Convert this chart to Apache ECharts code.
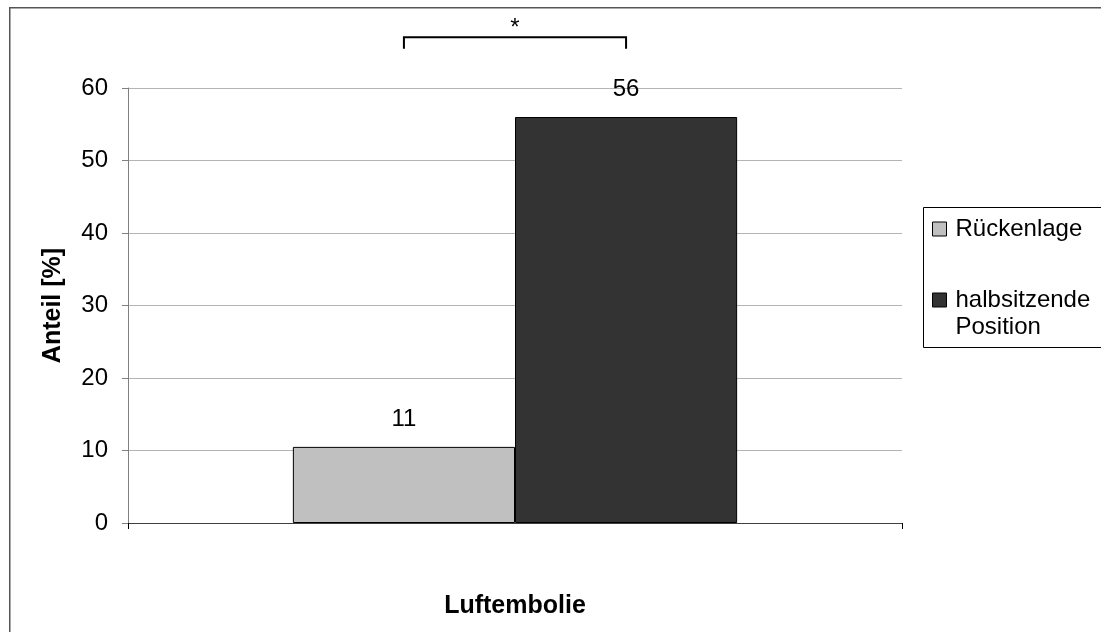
<!DOCTYPE html>
<html>
<head>
<meta charset="utf-8">
<script src="https://cdn.jsdelivr.net/npm/echarts@6/dist/echarts.min.js"></script>
<style>html,body{margin:0;padding:0;background:#fff}#c{width:1101px;height:632px}</style>
</head>
<body>
<div id="c"></div>
<script>
const categories = ['Luftembolie'];
const seriesNames = ['Rückenlage', 'halbsitzende Position'];
const legendLabels = ['Rückenlage', '\nhalbsitzende\nPosition'];
const valuesRueckenlage = [10.5];
const valuesHalbsitzend = [56];
const yTicks = [0, 10, 20, 30, 40, 50, 60];
const bracketTop = 67;      // value level of significance bracket
const bracketEnd = 65.4;    // value level of bracket ends
const sigMark = '*';

const FONT = "'Liberation Sans', Arial, sans-serif";
const FS = 24;
const FSB = 25;
const chart = echarts.init(document.getElementById('c'), null, {renderer: 'canvas'});

const option = {
  animation: false,
  backgroundColor: '#ffffff',
  textStyle: {fontFamily: FONT},
  grid: {left: 128, right: 199, top: 88, bottom: 109, containLabel: false},
  legend: {
    orient: 'vertical',
    left: 932,
    top: 215.5,
    padding: 0,
    itemGap: 17,
    itemWidth: 14,
    itemHeight: 14,
    icon: 'rect',
    itemStyle: {borderColor: '#000', borderWidth: 1},
    textStyle: {fontFamily: FONT, fontSize: FS, color: '#000', lineHeight: 27, padding: [0, 0, 0, 4]},
    data: seriesNames,
    formatter: function (n) { return legendLabels[seriesNames.indexOf(n)]; }
  },
  xAxis: {
    type: 'category',
    data: categories,
    name: categories[0],
    nameLocation: 'middle',
    nameGap: 71,
    nameTextStyle: {fontFamily: FONT, fontSize: FSB, fontWeight: 'bold', color: '#000'},
    axisLine: {lineStyle: {color: '#404040', width: 1}},
    axisTick: {show: true, length: 6, lineStyle: {color: '#000'}},
    axisLabel: {show: false}
  },
  yAxis: {
    type: 'value',
    min: yTicks[0],
    max: yTicks[yTicks.length - 1],
    interval: 10,
    name: 'Anteil [%]',
    nameLocation: 'middle',
    nameGap: 62,
    nameTextStyle: {fontFamily: FONT, fontSize: FSB, fontWeight: 'bold', color: '#000'},
    axisLine: {show: true, lineStyle: {color: '#808080', width: 1}},
    axisTick: {show: true, length: 6, lineStyle: {color: '#808080'}},
    axisLabel: {fontFamily: FONT, fontSize: FS, color: '#000', margin: 20},
    splitLine: {show: true, lineStyle: {color: '#b4b4b4', width: 1}}
  },
  series: [
    {
      name: seriesNames[0],
      type: 'bar',
      data: valuesRueckenlage,
      barGap: '0%',
      barCategoryGap: '42.6%',
      itemStyle: {color: '#c0c0c0', borderColor: '#000', borderWidth: 1},
      label: {show: true, position: 'top', distance: 16, fontFamily: FONT, fontSize: FS, color: '#000',
              formatter: p => Math.round(p.value)}
    },
    {
      name: seriesNames[1],
      type: 'bar',
      data: valuesHalbsitzend,
      barGap: '0%',
      barCategoryGap: '42.6%',
      itemStyle: {color: '#333333', borderColor: '#000', borderWidth: 1},
      label: {show: true, position: 'top', distance: 16, fontFamily: FONT, fontSize: FS, color: '#000',
              formatter: p => Math.round(p.value)}
    }
  ]
};
chart.setOption(option);

// Annotation: outer frame, legend frame, significance bracket (positions derived from the chart's scales)
const m = chart.getModel();
const l0 = m.getSeriesByIndex(0).getData().getItemLayout(0);
const l1 = m.getSeriesByIndex(1).getData().getItemLayout(0);
const x1 = l0.x + l0.width / 2;
const x2 = l1.x + l1.width / 2;
const yTop = chart.convertToPixel({yAxisIndex: 0}, bracketTop);
const yEnd = chart.convertToPixel({yAxisIndex: 0}, bracketEnd);

chart.setOption({
  graphic: [
    {type: 'rect', left: 9, top: 7, z: -1, silent: true,
     shape: {x: 0.5, y: 0.5, width: 1200, height: 700},
     style: {fill: '#fff', stroke: '#555', lineWidth: 1.5}},
    {type: 'rect', x: 923.5, y: 207.5, z: 0, silent: true,
     shape: {x: 0, y: 0, width: 200, height: 140},
     style: {fill: '#fff', stroke: '#000', lineWidth: 1}},
    {type: 'polyline', silent: true,
     shape: {points: [[x1, yEnd], [x1, yTop], [x2, yTop], [x2, yEnd]]},
     style: {fill: null, stroke: '#000', lineWidth: 2}},
    {type: 'text', silent: true, x: (x1 + x2) / 2, y: yTop + 3,
     style: {text: sigMark, font: FS + 'px ' + FONT, fill: '#000', align: 'center', verticalAlign: 'bottom'}}
  ]
});
</script>
</body>
</html>
